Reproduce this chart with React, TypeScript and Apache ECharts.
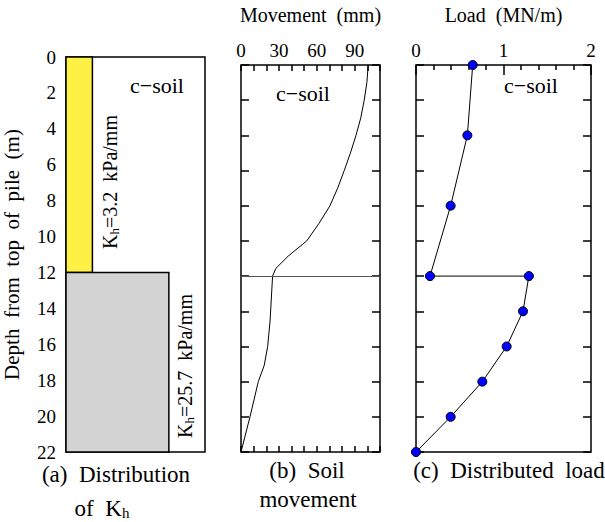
import React, { useEffect, useRef } from "react";
import * as echarts from "echarts";

// Panel (a): soil layers (depth range, relative drawing width)
const layerTop = [0, 12];
const layerBottom = [12, 22];
const layerWidth = [0.19, 0.74];
const layerColors = ["#FFF046", "#D3D3D3"];

// Panel (b): soil movement profile
const movementDepth = [0, 1, 2, 3, 4, 5, 6, 7, 8, 9, 10, 10.86, 11.57, 12, 14.55, 16, 17.07, 18, 20, 22];
const movementMm = [100.7, 99.6, 97.5, 94.8, 91, 86.6, 81.7, 76.5, 70.4, 61.8, 52, 37.4, 27.5, 25, 23, 21.1, 18.4, 13.7, 7.1, 0];

// Panel (c): distributed load profile
const loadDepth = [0, 4, 8, 12, 12, 14, 16, 18, 20, 22];
const loadMN = [0.648, 0.587, 0.396, 0.16, 1.29, 1.223, 1.036, 0.758, 0.396, 0];

const FONT = "Liberation Serif, serif";
const BLACK = "#000";

export default function App() {
  const ref = useRef<HTMLDivElement>(null);
  useEffect(() => {
    if (!ref.current) return;
    const chart = echarts.init(ref.current, undefined, { renderer: "svg" });

    const gridBase = { show: true, borderColor: BLACK, borderWidth: 1.5, backgroundColor: "transparent" };
    const tickStyle = { color: BLACK, width: 1.5 };
    const hiddenLabel = { show: false };
    const depthAxis = (gridIndex: number, position: string) => ({
      gridIndex,
      type: "value",
      inverse: true,
      min: 0,
      max: 22,
      interval: 2,
      position,
      axisLine: { show: false, onZero: false },
      axisTick: { show: true, inside: true, length: 8, lineStyle: tickStyle },
      axisLabel: hiddenLabel,
      splitLine: { show: false },
    });
    const nameStyle = { fontSize: 20, color: BLACK, fontFamily: FONT };
    const labelStyle = { fontSize: 19, color: BLACK, fontFamily: FONT };

    const option: any = {
      animation: false,
      textStyle: { fontFamily: FONT },
      grid: [
        { ...gridBase, left: 64, top: 57, width: 141, height: 395 },
        { ...gridBase, left: 241, top: 57, width: 139, height: 395 },
        { ...gridBase, left: 416, top: 57, width: 175, height: 395 },
      ],
      xAxis: [
        { gridIndex: 0, type: "value", min: 0, max: 1, show: false },
        {
          gridIndex: 1,
          type: "value",
          position: "top",
          min: 0,
          max: 110,
          interval: 10,
          axisLine: { show: false, onZero: false },
          axisTick: { inside: true, length: 6, lineStyle: tickStyle },
          axisLabel: {
            ...labelStyle,
            formatter: (v: number) => (v % 30 === 0 && v <= 90 ? String(v) : ""),
            margin: 5,
          },
          splitLine: { show: false },
          name: "Movement  (mm)",
          nameLocation: "middle",
          nameGap: 40,
          nameTextStyle: nameStyle,
        },
        {
          gridIndex: 1,
          type: "value",
          position: "bottom",
          min: 0,
          max: 110,
          interval: 10,
          axisLine: { show: false, onZero: false },
          axisTick: { inside: true, length: 6, lineStyle: tickStyle },
          axisLabel: hiddenLabel,
          splitLine: { show: false },
        },
        {
          gridIndex: 2,
          type: "value",
          position: "top",
          min: 0,
          max: 2,
          interval: 1,
          axisLine: { show: false, onZero: false },
          axisTick: { inside: true, length: 10, lineStyle: tickStyle },
          minorTick: { show: true, splitNumber: 5, length: 5, lineStyle: tickStyle },
          axisLabel: { ...labelStyle, margin: 5 },
          splitLine: { show: false },
          minorSplitLine: { show: false },
          name: "Load  (MN/m)",
          nameLocation: "middle",
          nameGap: 40,
          nameTextStyle: nameStyle,
        },
      ],
      yAxis: [
        {
          gridIndex: 0,
          type: "value",
          inverse: true,
          min: 0,
          max: 22,
          interval: 2,
          position: "left",
          axisLine: { show: false, onZero: false },
          axisTick: { show: false },
          axisLabel: { ...labelStyle, margin: 10 },
          splitLine: { show: false },
          name: "Depth  from  top  of  pile  (m)",
          nameLocation: "middle",
          nameGap: 44,
          nameRotate: 90,
          nameTextStyle: { ...nameStyle, fontSize: 21 },
        },
        depthAxis(1, "left"),
        depthAxis(1, "right"),
        depthAxis(2, "left"),
        depthAxis(2, "right"),
      ],
      series: [
        {
          type: "custom",
          xAxisIndex: 0,
          yAxisIndex: 0,
          data: layerTop.map((t, i) => [0, layerWidth[i], t, layerBottom[i], i]),
          renderItem: (params: any, api: any) => {
            const p0 = api.coord([api.value(0), api.value(2)]);
            const p1 = api.coord([api.value(1), api.value(3)]);
            const idx = api.value(4);
            return {
              type: "rect",
              shape: { x: p0[0], y: p0[1], width: p1[0] - p0[0], height: p1[1] - p0[1] },
              style: { fill: layerColors[idx], stroke: BLACK, lineWidth: 1.5 },
            };
          },
        },
        {
          type: "line",
          xAxisIndex: 1,
          yAxisIndex: 1,
          data: movementDepth.map((d, i) => [movementMm[i], d]),
          showSymbol: false,
          symbol: "none",
          lineStyle: { color: BLACK, width: 1 },
          markLine: {
            silent: true,
            symbol: "none",
            label: { show: false },
            lineStyle: { color: "#555", width: 1.2, type: "solid" },
            data: [{ yAxis: layerBottom[0] }],
          },
        },
        {
          type: "line",
          xAxisIndex: 3,
          yAxisIndex: 3,
          data: loadDepth.map((d, i) => [loadMN[i], d]),
          symbol: "circle",
          symbolSize: 9,
          itemStyle: { color: "#0000FF", borderColor: BLACK, borderWidth: 1 },
          lineStyle: { color: BLACK, width: 1 },
        },
      ],
      graphic: [
        { type: "text", x: 157, y: 85, style: { text: "c\u2212soil", fontSize: 22, fontFamily: FONT, fill: BLACK, align: "center", verticalAlign: "middle" } },
        { type: "text", x: 303, y: 93, style: { text: "c\u2212soil", fontSize: 22, fontFamily: FONT, fill: BLACK, align: "center", verticalAlign: "middle" } },
        { type: "text", x: 531, y: 85, style: { text: "c\u2212soil", fontSize: 22, fontFamily: FONT, fill: BLACK, align: "center", verticalAlign: "middle" } },
        {
          type: "text",
          x: 110,
          y: 182,
          rotation: Math.PI / 2,
          style: {
            text: "{k|K}{s|h}{k|=3.2  kPa/mm}",
            align: "center",
            verticalAlign: "middle",
            rich: {
              k: { fontSize: 20, fontFamily: FONT, fill: BLACK },
              s: { fontSize: 13, fontFamily: FONT, fill: BLACK, padding: [9, 0, 0, 0] },
            },
          },
        },
        {
          type: "text",
          x: 185,
          y: 366,
          rotation: Math.PI / 2,
          style: {
            text: "{k|K}{s|h}{k|=25.7  kPa/mm}",
            align: "center",
            verticalAlign: "middle",
            rich: {
              k: { fontSize: 20, fontFamily: FONT, fill: BLACK },
              s: { fontSize: 13, fontFamily: FONT, fill: BLACK, padding: [9, 0, 0, 0] },
            },
          },
        },
        { type: "text", x: 116, y: 474, style: { text: "(a)  Distribution", fontSize: 23, fontFamily: FONT, fill: BLACK, align: "center", verticalAlign: "middle" } },
        {
          type: "text",
          x: 102,
          y: 508,
          style: {
            text: "{k|of  K}{s|h}",
            align: "center",
            verticalAlign: "middle",
            rich: {
              k: { fontSize: 23, fontFamily: FONT, fill: BLACK },
              s: { fontSize: 15, fontFamily: FONT, fill: BLACK, padding: [10, 0, 0, 0] },
            },
          },
        },
        { type: "text", x: 307, y: 470, style: { text: "(b)  Soil", fontSize: 23, fontFamily: FONT, fill: BLACK, align: "center", verticalAlign: "middle" } },
        { type: "text", x: 308, y: 499, style: { text: "movement", fontSize: 23, fontFamily: FONT, fill: BLACK, align: "center", verticalAlign: "middle" } },
        { type: "text", x: 509, y: 470, style: { text: "(c)  Distributed  load", fontSize: 23, fontFamily: FONT, fill: BLACK, align: "center", verticalAlign: "middle" } },
      ],
    };

    chart.setOption(option);
    return () => chart.dispose();
  }, []);

  return <div ref={ref} style={{ position: "absolute", left: 0, top: 0, width: 605, height: 522 }} />;
}
